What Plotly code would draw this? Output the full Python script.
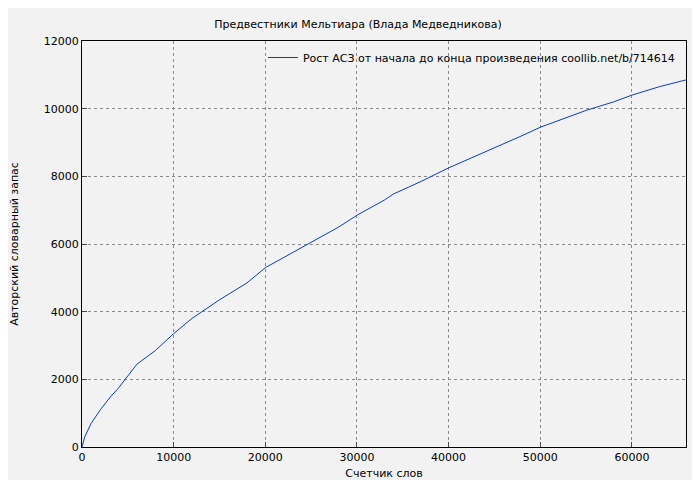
import plotly.graph_objects as go

words = [0, 300, 1000, 2000, 3000, 4000, 5000, 6000, 7000, 8000, 10000, 12000, 15000, 18000,
         20000, 22000, 25000, 28000, 30000, 33000, 34000, 37000, 40000, 43000, 45000,
         48000, 50000, 53000, 55000, 58000, 60000, 63000, 65900]
vocab = [0, 300, 700, 1100, 1450, 1750, 2100, 2450, 2650, 2850, 3350, 3800, 4350, 4850,
         5300, 5600, 6050, 6500, 6850, 7300, 7480, 7850, 8250, 8600, 8850,
         9200, 9450, 9750, 9950, 10200, 10400, 10650, 10850]

fig = go.Figure(go.Scatter(x=words, y=vocab, mode='lines', line=dict(color='#0a3dbf', width=1),
                           name='Рост АСЗ от начала до конца произведения coollib.net/b/714614'))

ax = dict(showline=True, linecolor='black', linewidth=1, mirror=True, ticks='inside', ticklen=5,
          gridcolor='#8a8a8a', griddash='dot', gridwidth=0.8, zeroline=False, automargin=False,
          tickformat='d', tickfont=dict(size=11, color='black'))
fig.update_layout(
    width=700, height=480, paper_bgcolor='#f2f2f2', plot_bgcolor='#f2f2f2',
    font=dict(family='DejaVu Sans', size=11, color='black'),
    margin=dict(l=74, r=22, t=33, b=41),
    title=dict(text='Предвестники Мельтиара (Влада Медведникова)', x=0.5, y=0.975,
               font=dict(size=11), automargin=False),
    xaxis=dict(ax, range=[0, 65900], dtick=10000,
               title=dict(text='Счетчик слов', standoff=6, font=dict(size=11))),
    yaxis=dict(ax, range=[0, 12000], dtick=2000,
               title=dict(text='Авторский словарный запас', standoff=22, font=dict(size=11))),
    showlegend=True,
    legend=dict(x=0.99, y=0.995, xanchor='right', yanchor='top', bgcolor='rgba(0,0,0,0)',
                font=dict(size=11)),
)
fig.write_html("out.html")
